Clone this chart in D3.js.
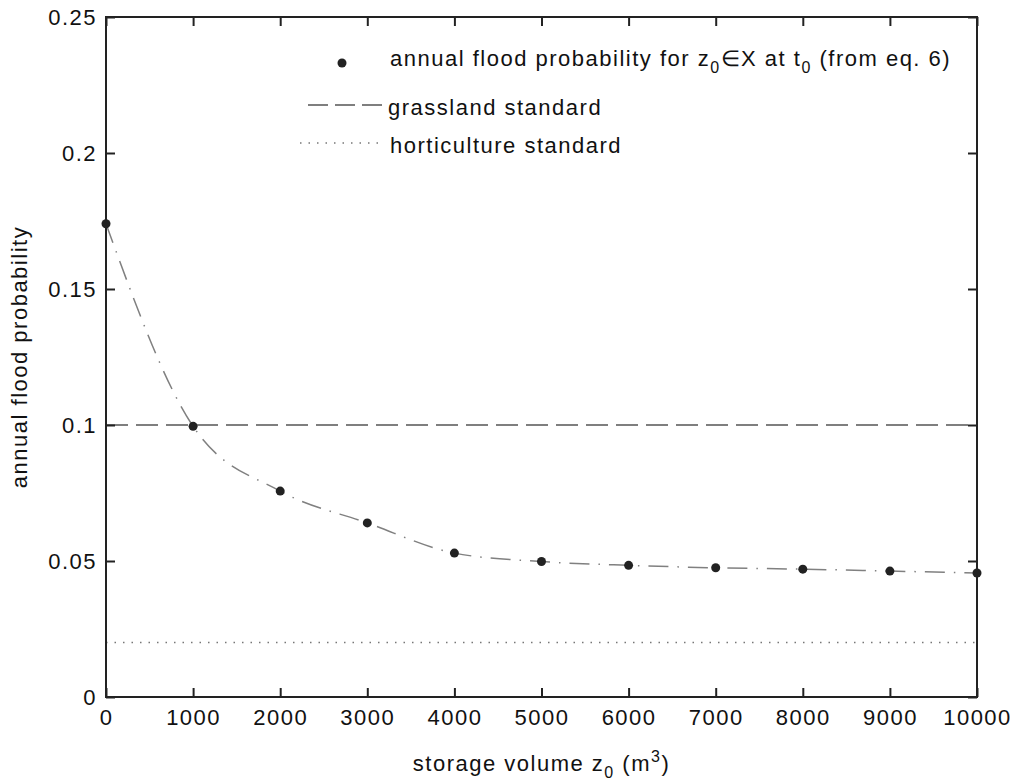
<!DOCTYPE html>
<html>
<head>
<meta charset="utf-8">
<script src="https://cdn.jsdelivr.net/npm/d3@7"></script>
<style>
  body { margin: 0; background: #fff; }
  text { font-family: "Liberation Sans", Arial, sans-serif; fill: #111; letter-spacing: 1.5px; }
</style>
</head>
<body>
<div id="root"></div>
<script>
// storage volume (m3) and annual flood probability
const volumes = [0, 1000, 2000, 3000, 4000, 5000, 6000, 7000, 8000, 9000, 10000]
const probs = [0.174, 0.0995, 0.0757, 0.064, 0.0529, 0.0498, 0.0484, 0.0475, 0.047, 0.0463, 0.0456]
const grassland = 0.1
const horticulture = 0.02
const xTicks = [0, 1000, 2000, 3000, 4000, 5000, 6000, 7000, 8000, 9000, 10000]
const yTicks = [0, 0.05, 0.1, 0.15, 0.2, 0.25]

const W = 1022, H = 783
const margin = { top: 17, right: 45, bottom: 86, left: 106 }
const width = W - margin.left - margin.right
const height = H - margin.top - margin.bottom
const fs = 22

const svg = d3.select("#root").append("svg")
  .attr("width", W)
  .attr("height", H)

const g = svg.append("g")
  .attr("transform", "translate(" + margin.left + "," + margin.top + ")")

const x = d3.scaleLinear().domain([0, 10000]).range([0, width])
const y = d3.scaleLinear().domain([0, 0.25]).range([height, 0])

// standards
g.append("line")
  .attr("x1", 0).attr("x2", width)
  .attr("y1", y(grassland)).attr("y2", y(grassland))
  .attr("stroke", "#555").attr("stroke-width", 1.3)
  .attr("stroke-dasharray", "22,8")

g.append("line")
  .attr("x1", 0).attr("x2", width)
  .attr("y1", y(horticulture)).attr("y2", y(horticulture))
  .attr("stroke", "#777").attr("stroke-width", 1.5)
  .attr("stroke-dasharray", "1.5,7")

// curve through the points
const line = d3.line()
  .x(function(d, i) { return x(volumes[i]) })
  .y(function(d) { return y(d) })
  .curve(d3.curveMonotoneX)

g.append("path")
  .datum(probs)
  .attr("d", line)
  .attr("fill", "none")
  .attr("stroke", "#808080")
  .attr("stroke-width", 1.5)
  .attr("stroke-dasharray", "20,9,1.5,9")

g.selectAll(".pt")
  .data(probs)
  .enter()
  .append("circle")
  .attr("class", "pt")
  .attr("cx", function(d, i) { return x(volumes[i]) })
  .attr("cy", function(d) { return y(d) })
  .attr("r", 4.5)
  .attr("fill", "#222")

// axes box with inward ticks
const styleAxis = (sel) => {
  sel.select(".domain").remove()
  sel.selectAll(".tick line").attr("stroke", "#222").attr("stroke-width", 2)
  sel.selectAll(".tick text").attr("font-size", fs).attr("fill", "#111")
    .attr("font-family", "Liberation Sans, Arial, sans-serif")
}

g.append("g")
  .attr("transform", "translate(0," + height + ")")
  .call(d3.axisBottom(x).tickValues(xTicks).tickSizeInner(-9).tickSizeOuter(0).tickPadding(12).tickFormat(d3.format("d")))
  .call(styleAxis)

g.append("g")
  .call(d3.axisTop(x).tickValues(xTicks).tickSizeInner(-9).tickSizeOuter(0).tickFormat(""))
  .call(styleAxis)

g.append("g")
  .call(d3.axisLeft(y).tickValues(yTicks).tickSizeInner(-9).tickSizeOuter(0).tickPadding(9).tickFormat(function(d) { return d === 0 ? "0" : d3.format("")(d) }))
  .call(styleAxis)

g.append("g")
  .attr("transform", "translate(" + width + ",0)")
  .call(d3.axisRight(y).tickValues(yTicks).tickSizeInner(-9).tickSizeOuter(0).tickFormat(""))
  .call(styleAxis)

g.append("rect")
  .attr("width", width).attr("height", height)
  .attr("fill", "none").attr("stroke", "#222").attr("stroke-width", 2)

// legend
const leg = svg.append("g")
leg.append("circle").attr("cx", 342).attr("cy", 63).attr("r", 4.5).attr("fill", "#222")
const t1 = leg.append("text").attr("x", 390).attr("y", 66).attr("font-size", fs)
t1.append("tspan").text("annual flood probability for z")
t1.append("tspan").attr("font-size", 16).attr("dy", 7).text("0")
t1.append("tspan").attr("dy", -7).text("∈X at t")
t1.append("tspan").attr("font-size", 16).attr("dy", 7).text("0")
t1.append("tspan").attr("dy", -7).text(" (from eq. 6)")

leg.append("line").attr("x1", 308).attr("x2", 385).attr("y1", 105).attr("y2", 105)
  .attr("stroke", "#555").attr("stroke-width", 1.3).attr("stroke-dasharray", "20,7")
leg.append("text").attr("x", 388).attr("y", 115).attr("font-size", fs).text("grassland standard")

leg.append("line").attr("x1", 300).attr("x2", 385).attr("y1", 143).attr("y2", 143)
  .attr("stroke", "#777").attr("stroke-width", 1.5).attr("stroke-dasharray", "1.5,7")
leg.append("text").attr("x", 390).attr("y", 153).attr("font-size", fs).text("horticulture standard")

// axis labels
const xl = svg.append("text").attr("x", margin.left + width / 2).attr("y", 771)
  .attr("text-anchor", "middle").attr("font-size", fs)
xl.append("tspan").text("storage volume z")
xl.append("tspan").attr("font-size", 16).attr("dy", 7).text("0")
xl.append("tspan").attr("dy", -7).text(" (m")
xl.append("tspan").attr("font-size", 16).attr("dy", -9).text("3")
xl.append("tspan").attr("dy", 9).text(")")

svg.append("text")
  .attr("transform", "translate(27," + (margin.top + height / 2) + ") rotate(-90)")
  .attr("text-anchor", "middle").attr("font-size", fs)
  .text("annual flood probability")
</script>
</body>
</html>
